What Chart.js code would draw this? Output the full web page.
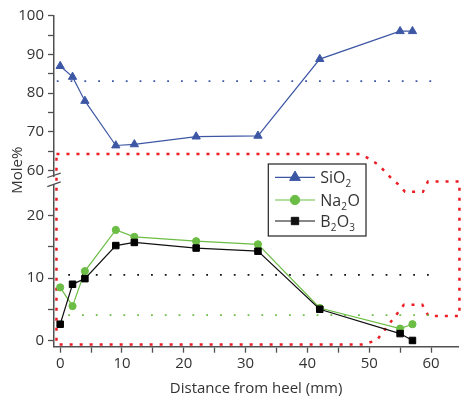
<!DOCTYPE html>
<html><head><meta charset="utf-8">
<script src="https://cdn.jsdelivr.net/npm/chart.js@4.4.1/dist/chart.umd.min.js"></script>
<style>html,body{margin:0;padding:0;background:#fff;}#wrap{width:464px;height:400px;position:relative;}</style>
</head><body><div id="wrap"><canvas id="c" width="464" height="400"></canvas></div>
<script>
// ---- data ----
const distance = [0, 2, 4, 9, 12, 22, 32, 42, 55, 57];
const sio2 = [87.0, 84.2, 78.0, 66.5, 66.8, 68.8, 69.0, 88.8, 96.0, 96.0];
const na2o = [8.5, 5.5, 11.1, 17.7, 16.6, 15.9, 15.4, 5.2, 1.9, 2.6];
const b2o3 = [2.6, 9.0, 9.9, 15.2, 15.7, 14.8, 14.3, 5.0, 1.1, 0.0];

// reference (dotted) levels
const refSio2X = [-0.55, 61.4], refSio2Y = [83.1, 83.1];
const refB2o3X = [1.3, 61.0],  refB2o3Y = [10.5, 10.5];
const refNa2oX = [1.3, 61.0],  refNa2oY = [4.06, 4.06];

// red dashed region outline (x, y, panel: t = upper axis, b = lower axis)
const redX = [-0.6, 48.6, 50.1, 51.5, 52.6, 53.6, 54.7, 55.8, 58.7, 59.5, 64.6, 64.6, 59.6, 58.6, 55.6, 51.2, 48.8, -0.6];
const redY = [64.3, 64.3, 63.0, 61.5, 59.7, 58.0, 25.0, 23.8, 23.8, 57.2, 57.2, 3.9, 3.9, 5.7, 5.7, 0.0, -0.65, -0.65];
const redP = ['t','t','t','t','t','t','b','b','b','t','t','b','b','b','b','b','b','b'];

// tick labels
const xTickLabels = [0, 10, 20, 30, 40, 50, 60];
const yTopTickLabels = [60, 70, 80, 90, 100];
const yBotTickLabels = [0, 10, 20];

// legend labels: [text, isSubscript]
const legendNames = [
  [['SiO', 0], ['2', 1]],
  [['Na', 0], ['2', 1], ['O', 0]],
  [['B', 0], ['2', 1], ['O', 0], ['3', 1]]
];
const yTitle = 'Mole%';
const xTitle = 'Distance from heel (mm)';

// ---- styles ----
const FONT = "'Open Sans', sans-serif";
const BLUE = '#3d57a5', GREEN = '#6cbd45', BLACK = '#111111', RED = '#ec1c24', AXIS = '#505050';
Chart.defaults.font.family = FONT;
Chart.defaults.font.size = 15;
Chart.defaults.color = '#333';

const pts = (xs, ys) => xs.map((x, i) => ({x: x, y: ys[i]}));

const legendStyles = [
  {color: BLUE, style: 'triangle', r: 6.2},
  {color: GREEN, style: 'circle', r: 4.7},
  {color: BLACK, style: 'rect', r: 5.2}
];

const overlay = {
  id: 'overlay',
  beforeDatasetsDraw(chart) {
    const {ctx, scales} = chart;
    const sx = scales.x, st = scales.yTop, sb = scales.yBot;
    ctx.save();
    ctx.strokeStyle = RED;
    ctx.lineWidth = 2.5;
    ctx.setLineDash([3, 7]);
    ctx.beginPath();
    redX.forEach((x, i) => {
      const px = sx.getPixelForValue(x);
      const py = (redP[i] === 't' ? st : sb).getPixelForValue(redY[i]);
      if (i === 0) ctx.moveTo(px, py); else ctx.lineTo(px, py);
    });
    ctx.closePath();
    ctx.stroke();
    ctx.restore();
  },
  afterDraw(chart) {
    const {ctx, scales, chartArea} = chart;
    const st = scales.yTop, sb = scales.yBot;
    ctx.save();
    // axis break marks
    const ax = chartArea.left;
    ctx.strokeStyle = AXIS;
    ctx.lineWidth = 1.3;
    ctx.beginPath();
    const y1 = st.bottom - 1.2, y2 = sb.top - 0.8;
    ctx.moveTo(ax - 6.7, y1 + 2.2); ctx.lineTo(ax + 6.7, y1 - 2.2);
    ctx.moveTo(ax - 6.7, y2 + 2.4); ctx.lineTo(ax + 6.7, y2 - 2.4);
    ctx.stroke();

    // y title
    ctx.fillStyle = '#333';
    ctx.font = '15px ' + FONT;
    ctx.textAlign = 'center';
    ctx.textBaseline = 'middle';
    ctx.translate(18, (st.top + sb.bottom) / 2 - 11);
    ctx.rotate(-Math.PI / 2);
    ctx.fillText(yTitle, 0, 0);
    ctx.restore();

    // legend
    ctx.save();
    const L = chartArea.left + 214.3, T = chartArea.top + 148.3, W = 97.7, H = 72;
    ctx.fillStyle = '#fff';
    ctx.fillRect(L, T, W, H);
    ctx.strokeStyle = '#222';
    ctx.lineWidth = 1.2;
    ctx.strokeRect(L, T, W, H);
    const rowY = [13.3, 36, 57];
    legendNames.forEach((parts, i) => {
      const st_ = legendStyles[i];
      const y = T + rowY[i];
      ctx.strokeStyle = st_.color;
      ctx.lineWidth = 1.2;
      ctx.beginPath();
      ctx.moveTo(L + 6.7, y); ctx.lineTo(L + 46.7, y);
      ctx.stroke();
      ctx.fillStyle = st_.color;
      ctx.strokeStyle = st_.color;
      ctx.lineWidth = 1;
      Chart.helpers.drawPoint(ctx, {pointStyle: st_.style, radius: st_.r, borderWidth: 1}, L + 26.7, y);
      let tx = L + 52;
      ctx.fillStyle = '#333';
      ctx.textAlign = 'left';
      ctx.textBaseline = 'alphabetic';
      parts.forEach(([txt, sub]) => {
        ctx.font = (sub ? '10px ' : '16px ') + FONT;
        ctx.fillText(txt, tx, y + 5.5 + (sub ? 4 : 0));
        tx += ctx.measureText(txt).width + (sub ? 0.5 : 0);
      });
    });
    ctx.restore();
  }
};

const majorCb = (list) => (v) => list.includes(v) ? String(v) : '';
const yCommon = {
  type: 'linear', position: 'left', stack: 'y',
  grid: {display: true, drawOnChartArea: false, drawTicks: true, tickLength: 6, tickColor: AXIS, tickWidth: 1.3},
  border: {display: true, color: AXIS, width: 1.5},
  afterFit: (s) => { s.width = 54; }
};

new Chart(document.getElementById('c'), {
  type: 'line',
  data: {
    datasets: [
      {label: 'B2O3', data: pts(distance, b2o3), yAxisID: 'yBot', borderColor: BLACK, borderWidth: 1.2,
       pointStyle: 'rect', pointRadius: 4.6, pointBorderWidth: 1, pointBackgroundColor: '#000', pointBorderColor: '#000', tension: 0},
      {label: 'Na2O', data: pts(distance, na2o), yAxisID: 'yBot', borderColor: GREEN, borderWidth: 1.2,
       pointStyle: 'circle', pointRadius: 3.6, pointBorderWidth: 1, pointBackgroundColor: GREEN, pointBorderColor: GREEN, tension: 0},
      {label: 'SiO2', data: pts(distance, sio2), yAxisID: 'yTop', borderColor: BLUE, borderWidth: 1.2,
       pointStyle: 'triangle', pointRadius: 4.8, pointBorderWidth: 1, pointBackgroundColor: BLUE, pointBorderColor: BLUE, tension: 0},
      {label: 'refSiO2', data: pts(refSio2X, refSio2Y), yAxisID: 'yTop', borderColor: BLUE, borderWidth: 1.8, borderDash: [1.8, 12], pointRadius: 0},
      {label: 'refB2O3', data: pts(refB2o3X, refB2o3Y), yAxisID: 'yBot', borderColor: BLACK, borderWidth: 1.8, borderDash: [1.8, 12], pointRadius: 0},
      {label: 'refNa2O', data: pts(refNa2oX, refNa2oY), yAxisID: 'yBot', borderColor: GREEN, borderWidth: 1.8, borderDash: [1.8, 12], pointRadius: 0}
    ]
  },
  options: {
    responsive: false, animation: false,
    layout: {padding: {top: 15.7, left: 0, right: 0, bottom: 0}},
    plugins: {legend: {display: false}, tooltip: {enabled: false}},
    scales: {
      x: {
        type: 'linear', position: 'bottom', min: -1, max: 64.4,
        grid: {display: true, drawOnChartArea: false, drawTicks: true, tickLength: 6, tickColor: AXIS, tickWidth: 1.3},
        border: {display: true, color: AXIS, width: 1.5},
        ticks: {stepSize: 5, autoSkip: false, maxRotation: 0, padding: 2, includeBounds: false, callback: majorCb(xTickLabels)},
        title: {display: true, text: xTitle, padding: {top: 0, bottom: 2}, font: {size: 15}},
        afterFit: (s) => { s.height = 53.3; s.paddingRight = 0; s.paddingLeft = 0; }
      },
      yTop: Object.assign({}, yCommon, {
        stackWeight: 160.8, weight: 3, min: 58.5, max: 100,
        ticks: {stepSize: 5, autoSkip: false, padding: 4, includeBounds: false, callback: majorCb(yTopTickLabels)}
      }),
      yGap: {
        type: 'linear', position: 'left', stack: 'y', stackWeight: 8.5, weight: 2,
        grid: {display: false}, ticks: {display: false}, border: {display: false},
        afterFit: (s) => { s.width = 54; }
      },
      yBot: Object.assign({}, yCommon, {
        stackWeight: 161.7, weight: 1, min: -1, max: 24.9,
        ticks: {stepSize: 5, autoSkip: false, padding: 4, includeBounds: false, callback: majorCb(yBotTickLabels)}
      })
    }
  },
  plugins: [overlay]
});
</script></body></html>
